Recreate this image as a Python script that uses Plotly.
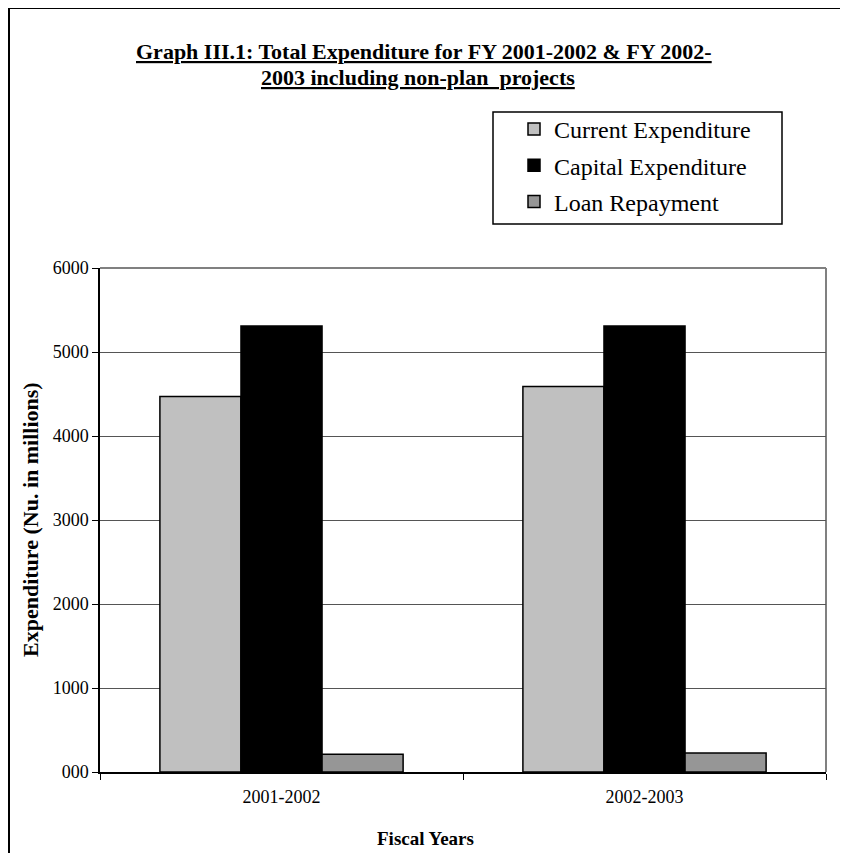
import plotly.graph_objects as go

fiscal_years = ["2001-2002", "2002-2003"]
current_expenditure = [4470, 4590]
capital_expenditure = [5310, 5310]
loan_repayment = [210, 225]
y_tick_vals = [0, 1000, 2000, 3000, 4000, 5000, 6000]
y_tick_text = ["000", "1000", "2000", "3000", "4000", "5000", "6000"]

# page offset caused by the default 8px body margin of the html page
OFF = 8
W, H = 840, 845
L, R, T, B = 92, 22, 260, 81
pw, ph = W - L - R, H - T - B


def px(x):
    """page pixel x -> paper x"""
    return (x - OFF - L) / pw


def py(y):
    """page pixel y -> paper y"""
    return (H - B - (y - OFF)) / ph


FONT = "Liberation Serif, Times New Roman, serif"

fig = go.Figure()
fig.add_bar(name="Current Expenditure", x=fiscal_years, y=current_expenditure,
            legendgroup="g1",
            marker=dict(color="#C0C0C0", line=dict(color="black", width=1.5)))
fig.add_bar(name="Capital Expenditure", x=fiscal_years, y=capital_expenditure,
            legendgroup="g2",
            marker=dict(color="#000000", line=dict(color="black", width=1.5)))
fig.add_bar(name="Loan Repayment", x=fiscal_years, y=loan_repayment,
            legendgroup="g3",
            marker=dict(color="#969696", line=dict(color="black", width=1.5)))

fig.update_layout(
    width=W, height=H,
    margin=dict(l=L, r=R, t=T, b=B, pad=0),
    paper_bgcolor="white", plot_bgcolor="white",
    barmode="group", bargap=0.33, bargroupgap=0,
    font=dict(family=FONT, color="black", size=18),
    showlegend=True,
    legend=dict(x=px(514), y=py(107), xanchor="left", yanchor="top",
                borderwidth=0, bgcolor="rgba(0,0,0,0)",
                font=dict(family=FONT, size=24, color="black"),
                tracegroupgap=2, itemwidth=30),
    xaxis=dict(showline=True, linecolor="black", linewidth=1.5,
               ticks="outside", ticklen=6, tickcolor="black", tickson="boundaries",
               tickfont=dict(family=FONT, size=18), ticklabelstandoff=8,
               showgrid=False, zeroline=False, fixedrange=True),
    yaxis=dict(range=[0, 6000], tickvals=y_tick_vals, ticktext=y_tick_text,
               showline=True, linecolor="black", linewidth=1.5,
               ticks="outside", ticklen=6, tickcolor="black",
               tickfont=dict(family=FONT, size=18),
               showgrid=True, gridcolor="#555555", gridwidth=1, zeroline=False),
    shapes=[
        dict(type="line", xref="paper", yref="paper", x0=0, x1=1, y0=1, y1=1,
             line=dict(color="#808080", width=2), layer="below"),
        dict(type="line", xref="paper", yref="paper", x0=1, x1=1, y0=0, y1=1,
             line=dict(color="#808080", width=2), layer="below"),
        # legend frame
        dict(type="rect", xref="paper", yref="paper",
             x0=px(493), x1=px(782), y0=py(224), y1=py(112),
             line=dict(color="black", width=1.5), fillcolor="white", layer="below"),
        # outer frame (left and top edges)
        dict(type="path", xref="paper", yref="paper",
             path=f"M {px(9)} {py(860)} L {px(9)} {py(8)} L {px(860)} {py(8)}",
             line=dict(color="black", width=2)),
    ],
    annotations=[
        dict(text="<u><b>Graph III.1: Total Expenditure for FY 2001-2002 &amp; FY 2002-</b></u>",
             x=px(424), y=py(51), xref="paper", yref="paper", showarrow=False,
             xanchor="center", yanchor="middle", font=dict(family=FONT, size=22)),
        dict(text="<u><b>2003 including non-plan&nbsp; projects</b></u>",
             x=px(418), y=py(77), xref="paper", yref="paper", showarrow=False,
             xanchor="center", yanchor="middle", font=dict(family=FONT, size=22)),
        dict(text="<b>Fiscal Years</b>", x=px(425), y=py(838), xref="paper", yref="paper",
             showarrow=False, xanchor="center", yanchor="middle",
             font=dict(family=FONT, size=19)),
        dict(text="<b>Expenditure (Nu. in millions)</b>", x=px(30), y=py(520),
             xref="paper", yref="paper", showarrow=False, textangle=-90,
             xanchor="center", yanchor="middle", font=dict(family=FONT, size=22)),
    ],
)

fig.write_html("out.html")
